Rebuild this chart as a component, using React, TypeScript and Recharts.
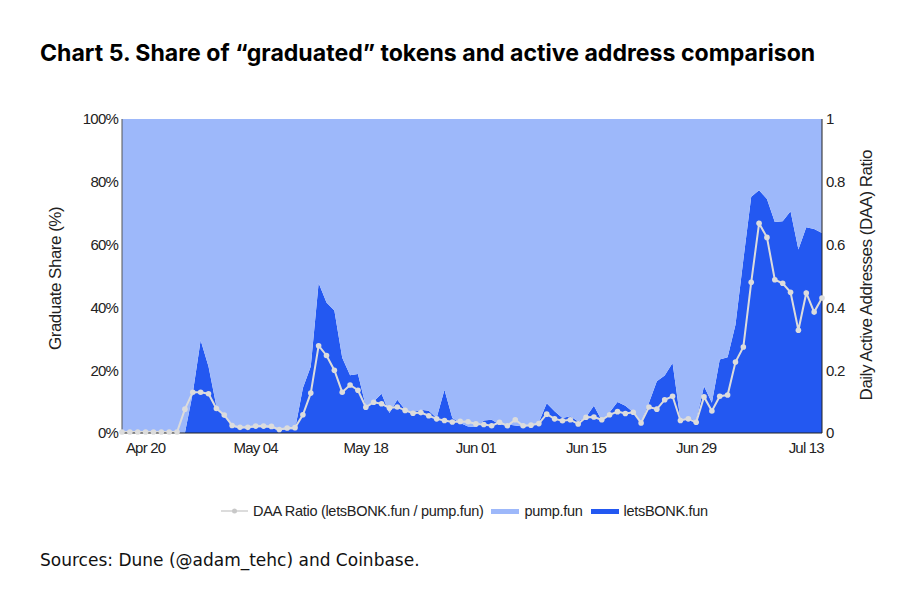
import { Area, ComposedChart, Line, XAxis, YAxis } from "recharts";

const dates = [
  "Apr 17", "Apr 18", "Apr 19", "Apr 20", "Apr 21", "Apr 22", "Apr 23", "Apr 24", "Apr 25", "Apr 26", "Apr 27", "Apr 28", "Apr 29", "Apr 30",
  "May 01", "May 02", "May 03", "May 04", "May 05", "May 06", "May 07", "May 08", "May 09", "May 10", "May 11", "May 12", "May 13", "May 14", "May 15", "May 16", "May 17", "May 18", "May 19", "May 20", "May 21", "May 22", "May 23", "May 24", "May 25", "May 26", "May 27", "May 28", "May 29", "May 30", "May 31",
  "Jun 01", "Jun 02", "Jun 03", "Jun 04", "Jun 05", "Jun 06", "Jun 07", "Jun 08", "Jun 09", "Jun 10", "Jun 11", "Jun 12", "Jun 13", "Jun 14", "Jun 15", "Jun 16", "Jun 17", "Jun 18", "Jun 19", "Jun 20", "Jun 21", "Jun 22", "Jun 23", "Jun 24", "Jun 25", "Jun 26", "Jun 27", "Jun 28", "Jun 29", "Jun 30",
  "Jul 01", "Jul 02", "Jul 03", "Jul 04", "Jul 05", "Jul 06", "Jul 07", "Jul 08", "Jul 09", "Jul 10", "Jul 11", "Jul 12", "Jul 13", "Jul 14", "Jul 15",
];

const letsBonkShare = [
  0, 0, 0, 0, 0, 0, 0, 0, 0, 12.7, 29.5, 21.2, 8.5, 5.7, 2, 1.5, 1.5, 1.8, 1.8, 1.6,
  0.8, 1.2, 1.2, 14.3, 21.2, 47.8, 41.6, 39, 24, 18.4, 18.8, 8.5, 10, 12.5, 6.4, 10.6, 7.4, 6.6, 7.4, 7.1,
  4.8, 13.8, 4.8, 3.2, 2.1, 1.9, 4, 4.2, 2.7, 2.7, 2.4, 2.1, 2.3, 3.4, 9.5, 6.9, 4.8, 5.3, 3.7, 5.1,
  8.7, 4, 6.6, 9.9, 8.7, 6.6, 3.4, 9.6, 16.5, 18.3, 22.3, 4.2, 4.8, 4, 14.9, 9.6, 23.4, 24.1, 34.5, 55.2,
  75.2, 77.3, 74.5, 67.2, 67.4, 70.6, 58.4, 65.5, 65, 63.7,
];

const pumpShare = [
  100, 100, 100, 100, 100, 100, 100, 100, 100, 87.3, 70.5, 78.8, 91.5, 94.3, 98, 98.5, 98.5, 98.2, 98.2, 98.4,
  99.2, 98.8, 98.8, 85.7, 78.8, 52.2, 58.4, 61, 76, 81.6, 81.2, 91.5, 90, 87.5, 93.6, 89.4, 92.6, 93.4, 92.6, 92.9,
  95.2, 86.2, 95.2, 96.8, 97.9, 98.1, 96, 95.8, 97.3, 97.3, 97.6, 97.9, 97.7, 96.6, 90.5, 93.1, 95.2, 94.7, 96.3, 94.9,
  91.3, 96, 93.4, 90.1, 91.3, 93.4, 96.6, 90.4, 83.5, 81.7, 77.7, 95.8, 95.2, 96, 85.1, 90.4, 76.6, 75.9, 65.5, 44.8,
  24.8, 22.7, 25.5, 32.8, 32.6, 29.4, 41.6, 34.5, 35, 36.3,
];

const daaRatio = [
  0.003, 0.003, 0.003, 0.003, 0.003, 0.003, 0.003, 0.003, 0.076, 0.13, 0.13, 0.125, 0.078, 0.057, 0.024, 0.018, 0.018, 0.022, 0.022, 0.021,
  0.011, 0.016, 0.017, 0.058, 0.127, 0.278, 0.247, 0.2, 0.13, 0.153, 0.136, 0.082, 0.098, 0.093, 0.08, 0.083, 0.072, 0.063, 0.065, 0.055,
  0.045, 0.04, 0.035, 0.037, 0.036, 0.029, 0.027, 0.023, 0.034, 0.023, 0.042, 0.023, 0.025, 0.03, 0.06, 0.045, 0.039, 0.042, 0.029, 0.05,
  0.051, 0.042, 0.058, 0.068, 0.062, 0.066, 0.032, 0.083, 0.076, 0.106, 0.117, 0.04, 0.045, 0.034, 0.115, 0.07, 0.117, 0.121, 0.226, 0.274,
  0.48, 0.668, 0.623, 0.488, 0.477, 0.448, 0.327, 0.446, 0.385, 0.43,
];

const dateTicks = ["Apr 20", "May 04", "May 18", "Jun 01", "Jun 15", "Jun 29", "Jul 13"];
const shareTicks = [0, 20, 40, 60, 80, 100];
const ratioTicks = [0, 0.2, 0.4, 0.6, 0.8, 1];

const data = dates.map((date, i) => ({
  date,
  lets: letsBonkShare[i],
  pump: pumpShare[i],
  ratio: daaRatio[i],
}));

const sans = "'Liberation Sans', Arial, sans-serif";
const tick = { fill: "#222", fontSize: 15, fontFamily: sans, letterSpacing: -0.8 };
const axisLabel = { fill: "#222", fontSize: 17, fontFamily: sans, letterSpacing: -0.5 };
const PUMP = "#9db8fa";
const LETS = "#2358f1";
const RATIO = "#dcdcdc";

export default function App() {
  return (
    <div style={{ position: "absolute", left: 0, top: 0, width: 908, height: 600, background: "#fff", overflow: "hidden" }}>
      <div
        style={{
          position: "absolute",
          left: 40,
          top: 39,
          fontFamily: "Inter, sans-serif",
          fontWeight: 700,
          fontSize: 23.1,
          lineHeight: "28px",
          color: "#000",
          whiteSpace: "nowrap",
        }}
      >
        Chart 5. Share of “graduated” tokens and active address comparison
      </div>

      <div style={{ position: "absolute", left: 0, top: 0 }}>
        <ComposedChart width={908} height={470} data={data} margin={{ top: 119, right: 26, bottom: 7, left: 62 }}>
          <XAxis
            dataKey="date"
            scale="point"
            ticks={dateTicks}
            interval={0}
            height={30}
            tick={tick}
            tickLine={false}
            tickSize={0}
            tickMargin={9}
            axisLine={{ stroke: "#222" }}
          />
          <YAxis
            yAxisId="share"
            domain={[0, 100]}
            ticks={shareTicks}
            tickFormatter={(v: number) => `${v}%`}
            width={60}
            tick={tick}
            tickLine={false}
            tickSize={0}
            tickMargin={4}
            axisLine={{ stroke: "#555" }}
            label={{
              value: "Graduate Share (%)",
              angle: -90,
              position: "insideLeft",
              dx: -12,
              dy: 74,
              style: axisLabel,
            }}
          />
          <YAxis
            yAxisId="ratio"
            orientation="right"
            domain={[0, 1]}
            ticks={ratioTicks}
            width={60}
            tick={tick}
            tickLine={false}
            tickSize={0}
            tickMargin={4}
            axisLine={{ stroke: "#222" }}
            label={{
              value: "Daily Active Addresses (DAA) Ratio",
              angle: -90,
              position: "insideRight",
              dx: -11,
              dy: -126,
              style: axisLabel,
            }}
          />
          <Area
            yAxisId="share"
            type="linear"
            dataKey="lets"
            stackId="share"
            stroke="none"
            fill={LETS}
            fillOpacity={1}
            isAnimationActive={false}
          />
          <Area
            yAxisId="share"
            type="linear"
            dataKey="pump"
            stackId="share"
            stroke="none"
            fill={PUMP}
            fillOpacity={1}
            isAnimationActive={false}
          />
          <Line
            yAxisId="ratio"
            type="linear"
            dataKey="ratio"
            stroke={RATIO}
            strokeWidth={2}
            dot={{ r: 2.8, fill: RATIO, stroke: RATIO, strokeWidth: 0, fillOpacity: 1 }}
            isAnimationActive={false}
          />
        </ComposedChart>
      </div>

      <div
        style={{
          position: "absolute",
          left: 221,
          top: 501,
          height: 20,
          display: "flex",
          alignItems: "center",
          fontFamily: sans,
          fontSize: 14.5,
          letterSpacing: -0.3,
          color: "#222",
          whiteSpace: "nowrap",
        }}
      >
        <svg width={27} height={8} style={{ marginRight: 5 }}>
          <line x1={0} y1={4} x2={27} y2={4} stroke={RATIO} strokeWidth={2} />
          <circle cx={13.5} cy={4} r={2.5} fill="#c8c8c8" />
        </svg>
        <span style={{ marginRight: 8 }}>DAA Ratio (letsBONK.fun / pump.fun)</span>
        <span style={{ width: 28, height: 5, background: PUMP, marginRight: 5 }} />
        <span style={{ marginRight: 8 }}>pump.fun</span>
        <span style={{ width: 28, height: 5, background: LETS, marginRight: 5 }} />
        <span>letsBONK.fun</span>
      </div>

      <div
        style={{
          position: "absolute",
          left: 40,
          top: 550,
          fontFamily: "'DejaVu Sans', Verdana, sans-serif",
          fontSize: 17,
          lineHeight: "20px",
          color: "#111",
          whiteSpace: "nowrap",
        }}
      >
        Sources: Dune (@adam_tehc) and Coinbase.
      </div>
    </div>
  );
}
